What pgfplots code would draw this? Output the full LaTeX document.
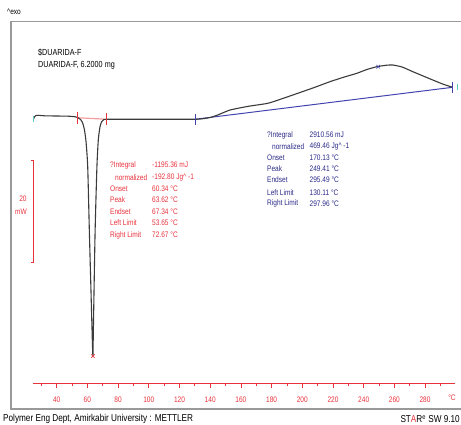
\documentclass[border=0pt]{standalone}
\usepackage{pgfplots}
\pgfplotsset{compat=1.18}
\usepackage{fontspec}
\setmainfont[FakeStretch=0.82]{Liberation Sans}

\definecolor{curvec}{HTML}{3A3A3A}
\definecolor{redc}{HTML}{E8323C}
\definecolor{pinkc}{HTML}{F4A0A0}
\definecolor{bluel}{HTML}{4444B0}
\definecolor{bluet}{HTML}{2A2A88}
\definecolor{framec}{HTML}{999999}
\definecolor{cyanc}{HTML}{5CC8C8}

\begin{document}
\begin{tikzpicture}[every node/.style={font=\fontsize{8pt}{9.5pt}\selectfont, inner sep=0pt}]

% heat-flow curve (mW, relative) against sample temperature (degC)
\begin{axis}[at={(0pt,0pt)}, anchor=south west,
  width=461pt, height=425pt, scale only axis, hide axis,
  xmin=3.06, xmax=303.39, ymin=-60.196, ymax=23.137, clip=false]

% integration baselines
\addplot[pinkc, line width=1.2pt] coordinates {(53.65,0.05) (72.67,-0.25)};
\addplot[bluel, line width=1.0pt] coordinates {(130.11,-0.25) (297.96,6.02)};

% measured DSC curve
\addplot[curvec, line width=1.1pt, smooth, tension=0.35] coordinates {
  (24.8,-0.29) (25.5,0.2) (26.5,0.49) (28,0.53) (32,0.43) (40,0.39)
  (48,0.35) (52,0.24) (54,0.04) (55.5,-0.29) (56.8,-0.9) (58,-2.2)
  (59.1,-4.6) (60.2,-9.55) (61.3,-22.5) (62.5,-35.7) (63.3,-44.5)
  (63.62,-46.7) (63.85,-42.2) (65.0,-22.5) (66.2,-9.55) (67.1,-4.31)
  (68.2,-1.71) (69.3,-0.73) (70.5,-0.35) (72.7,-0.25) (90,-0.25)
  (110,-0.25) (130,-0.25) (135,-0.15) (140,0.1) (145,0.6) (153,1.57)
  (165,2.3) (177.5,2.88) (187,3.8) (197,4.84) (208,6.0) (218,7.12)
  (227,8.0) (235.5,8.76) (242,9.5) (248.6,10.06) (255,10.35)
  (259,10.39) (265,10.0) (272,9.08) (279,8.2) (285,7.45) (292,6.6)
  (298,6.02)};

% limit and peak markers
\addplot[only marks, mark=|, mark size=6pt, redc, mark options={line width=1pt}]
  coordinates {(53.65,0.0) (72.67,-0.2)};
\addplot[only marks, mark=|, mark size=5.5pt, bluel, mark options={line width=1pt}]
  coordinates {(130.11,-0.25) (297.96,6.02)};
\addplot[only marks, mark=x, mark size=2.5pt, redc, mark options={line width=0.6pt}]
  coordinates {(63.62,-46.7)};
\addplot[only marks, mark=x, mark size=2.5pt, bluel, mark options={line width=0.6pt}]
  coordinates {(249.41,10.06)};
\addplot[only marks, mark=|, mark size=3pt, cyanc, mark options={line width=1pt}]
  coordinates {(24.8,-0.25) (300.8,6.0)};
\end{axis}

% temperature axis
\begin{axis}[at={(33pt,42pt)}, anchor=south west,
  width=422pt, height=20pt, scale only axis,
  xmin=24.56, xmax=299.5, ymin=0, ymax=1,
  axis x line=bottom, axis y line=none,
  axis line style={-, redc, line width=0.8pt},
  xtick={40,60,...,280}, minor xtick={30,50,...,290},
  tick align=outside, major tick length=5pt, minor tick length=3pt,
  tick style={redc, line width=0.7pt},
  xticklabel style={text=redc, anchor=north, yshift=-9pt},
  /pgf/number format/assume math mode=true]
\addplot[draw=none] coordinates {(30,0.5)};
\end{axis}

\begin{scope}[shift={(0pt,425pt)}, x=1pt, y=-1pt]
  % frame
  \draw[framec, line width=1.8pt] (480,21.5) -- (11,21.5) -- (11,409) -- (480,409);
  \node[anchor=west, font=\fontsize{8pt}{9pt}\selectfont] at (7,12) {\textasciicircum exo};

  \node[anchor=west, font=\fontsize{8.8pt}{10pt}\selectfont] at (38,53) {\$DUARIDA-F};
  \node[anchor=west, font=\fontsize{8.8pt}{10pt}\selectfont] at (38,65) {DUARIDA-F, 6.2000 mg};

  % 20 mW scale bar
  \draw[redc, line width=0.7pt] (30.5,160) -- (33,160) -- (33,262) -- (30.5,262);
  \node[anchor=center, text=redc] at (23,199) {20};
  \node[anchor=center, text=redc] at (21,212) {mW};

  % endotherm evaluation
  \begin{scope}[every node/.append style={anchor=west, text=redc}]
    \node at (110,165) {?Integral};   \node at (152,165) {-1195.36 mJ};
    \node at (115,177.5) {normalized}; \node at (152,177.5) {-192.80 Jg\textasciicircum{} -1};
    \node at (110,189) {Onset};       \node at (152,189) {60.34 \textdegree C};
    \node at (110,200) {Peak};        \node at (152,200) {63.62 \textdegree C};
    \node at (110,211.5) {Endset};    \node at (152,211.5) {67.34 \textdegree C};
    \node at (110,223) {Left Limit};  \node at (152,223) {53.65 \textdegree C};
    \node at (110,235) {Right Limit}; \node at (152,235) {72.67 \textdegree C};
  \end{scope}

  % exotherm evaluation
  \begin{scope}[every node/.append style={anchor=west, text=bluet}]
    \node at (267,135) {?Integral};    \node at (309.5,135) {2910.56 mJ};
    \node at (272,146.5) {normalized}; \node at (309.5,146.5) {469.46 Jg\textasciicircum{} -1};
    \node at (267,157.5) {Onset};      \node at (309.5,157.5) {170.13 \textdegree C};
    \node at (267,168.5) {Peak};       \node at (309.5,168.5) {249.41 \textdegree C};
    \node at (267,180) {Endset};       \node at (309.5,180) {295.49 \textdegree C};
    \node at (267,192.5) {Left Limit}; \node at (309.5,192.5) {130.11 \textdegree C};
    \node at (267,203.5) {Right Limit};\node at (309.5,203.5) {297.96 \textdegree C};
  \end{scope}

  \node[anchor=center, text=redc] at (452,398) {\textdegree C};

  \node[anchor=west, font=\fontsize{10pt}{11pt}\selectfont] at (3,419) {Polymer Eng Dept, Amirkabir University : METTLER};
  \node[anchor=east, font=\fontsize{10pt}{11pt}\selectfont] at (460,419) {ST\textcolor{redc}{A}R\textsuperscript{e} SW 9.10};
\end{scope}

\pgfresetboundingbox
\path[use as bounding box] (0,0) rectangle (461pt,425pt);
\end{tikzpicture}
\end{document}
